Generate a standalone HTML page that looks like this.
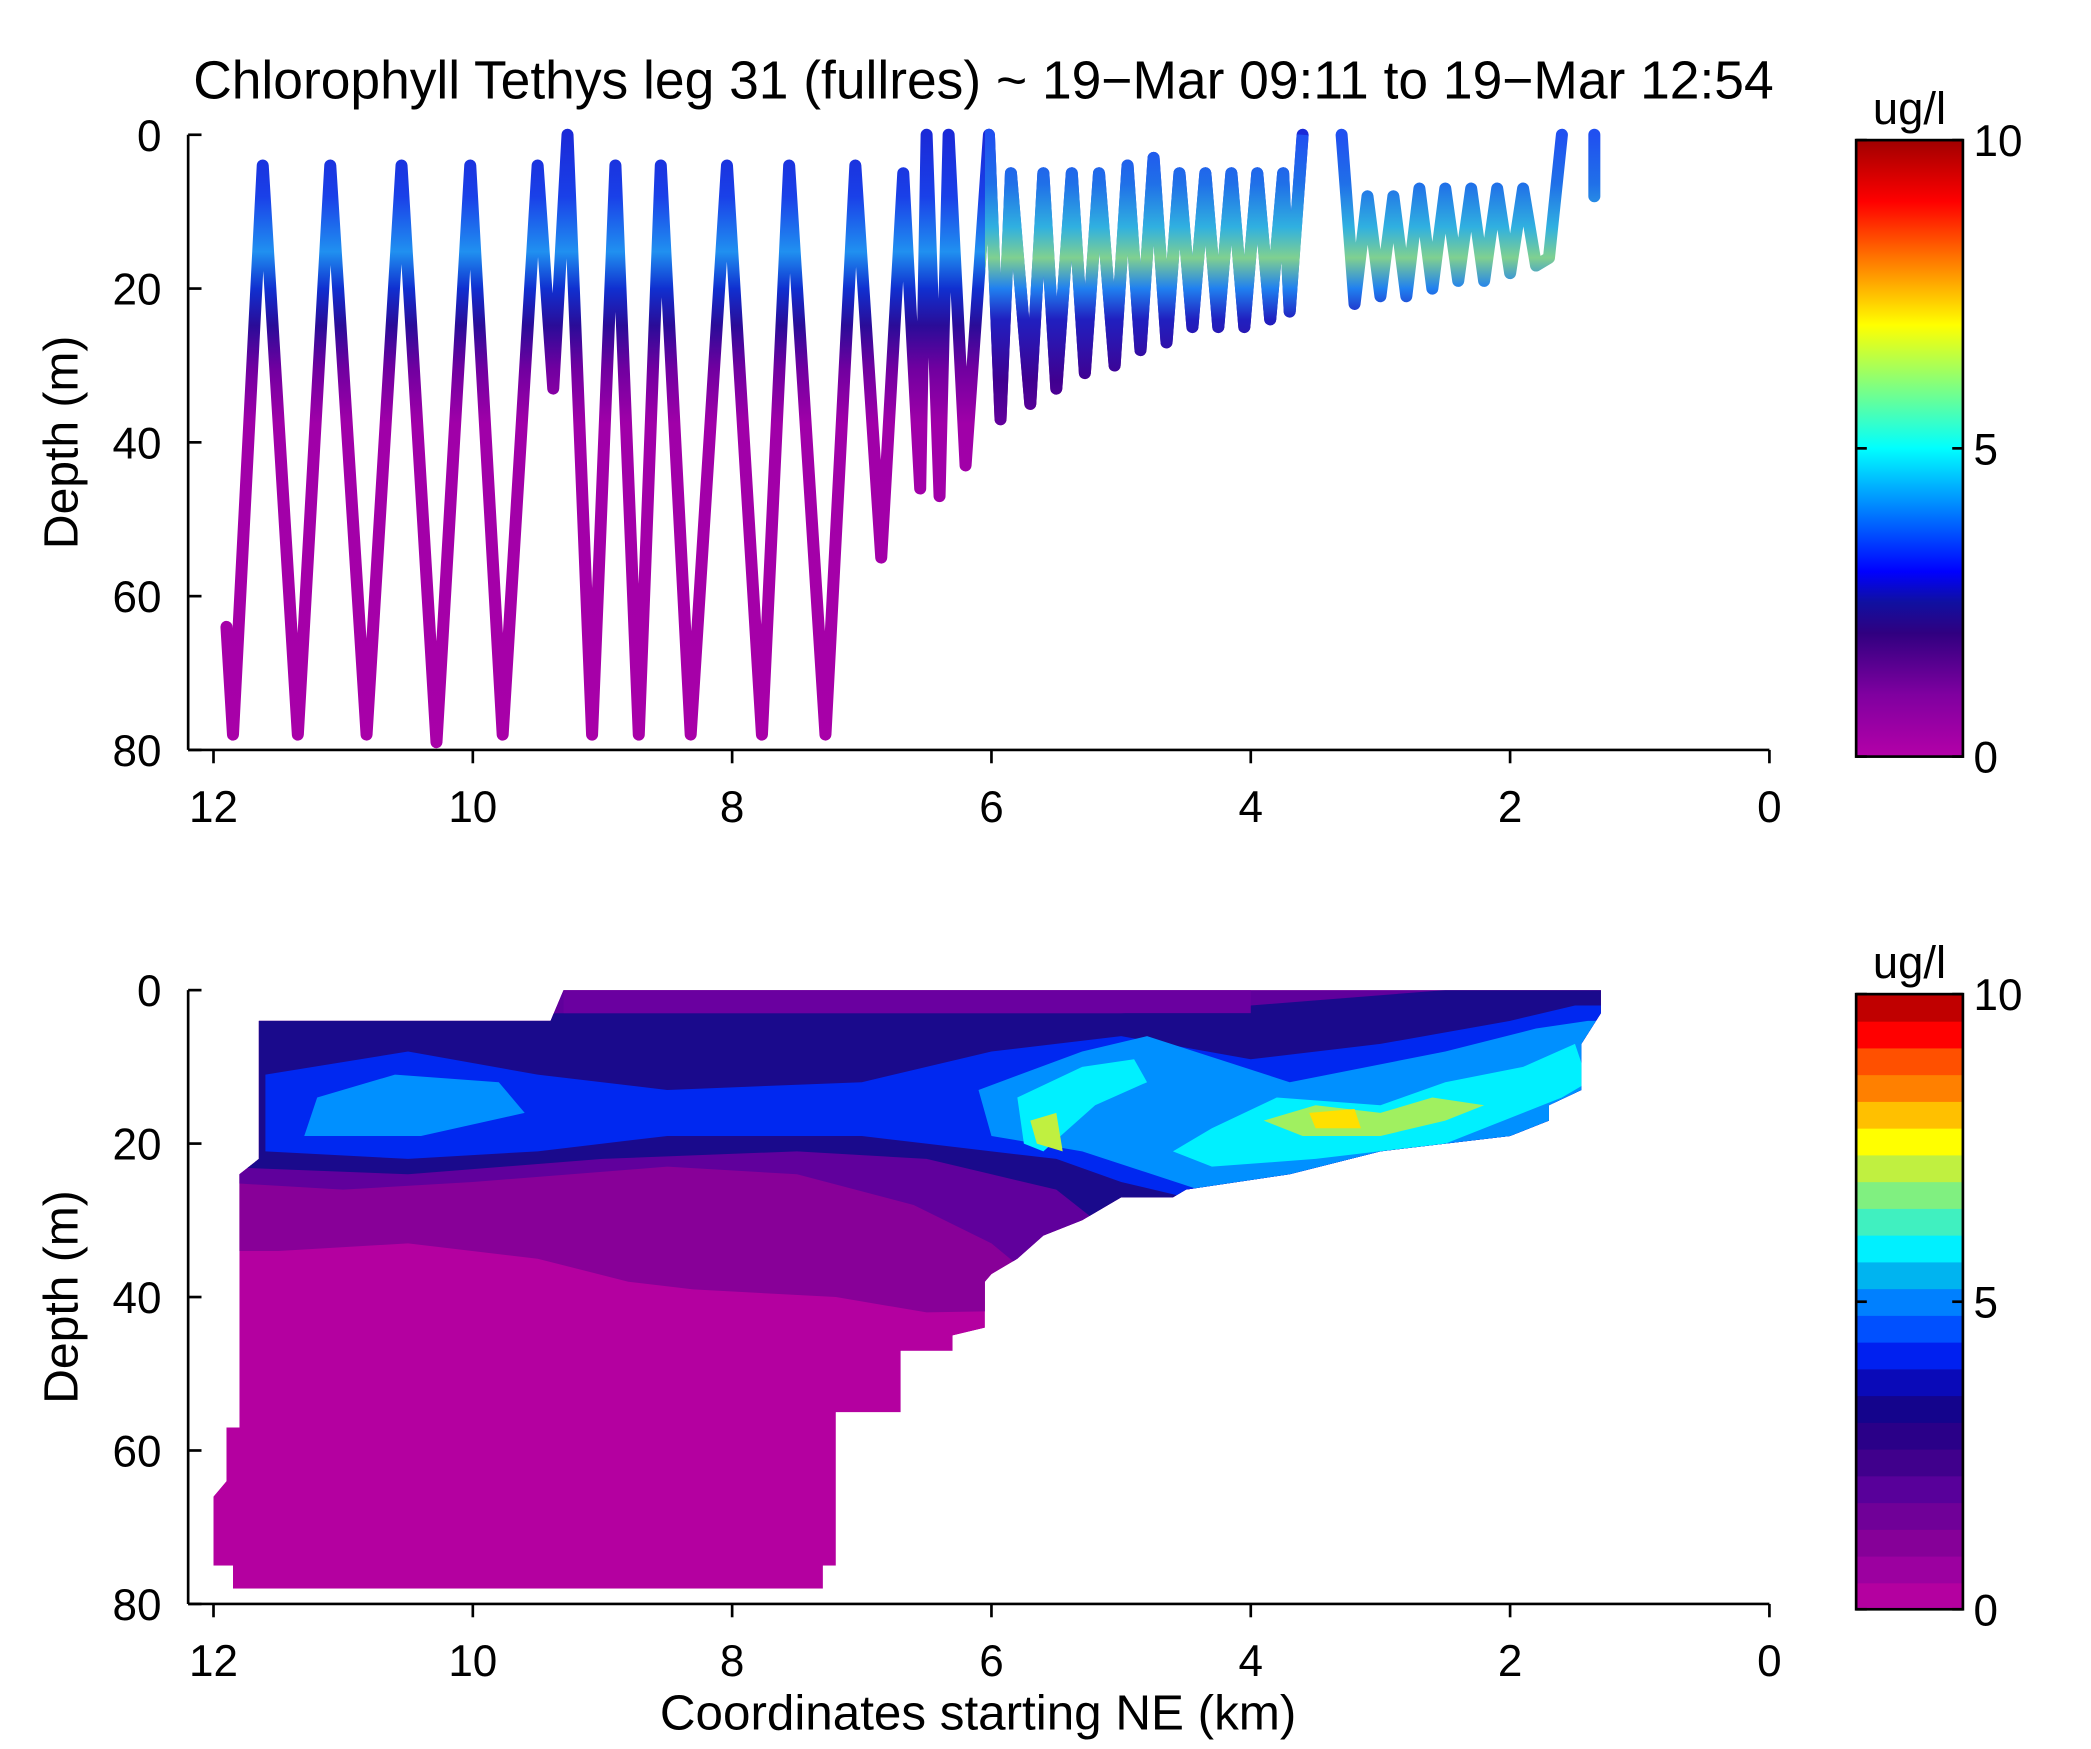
<!DOCTYPE html>
<html><head><meta charset="utf-8"><style>
html,body{margin:0;padding:0;background:#fff}
svg{display:block}
text{font-family:"Liberation Sans",sans-serif;fill:#000}
</style></head><body>
<svg id="fig" width="2091" height="1749" viewBox="0 0 1567 1310.7" xmlns="http://www.w3.org/2000/svg">
<defs>
<linearGradient id="cbTop" x1="0" y1="1" x2="0" y2="0">
<stop offset="0" stop-color="#b400a8"/><stop offset="0.1" stop-color="#8000a0"/><stop offset="0.2" stop-color="#300080"/>
<stop offset="0.25" stop-color="#1010a0"/><stop offset="0.3" stop-color="#0000ff"/><stop offset="0.4" stop-color="#0080ff"/>
<stop offset="0.5" stop-color="#00ffff"/><stop offset="0.6" stop-color="#80ff80"/><stop offset="0.7" stop-color="#ffff00"/>
<stop offset="0.8" stop-color="#ff8000"/><stop offset="0.9" stop-color="#ff0000"/><stop offset="1" stop-color="#a00000"/>
</linearGradient>
<linearGradient id="traceGrad" gradientUnits="userSpaceOnUse" x1="0" y1="101" x2="0" y2="562">
<stop offset="0" stop-color="#1a2ad8"/><stop offset="0.1" stop-color="#1a40e8"/><stop offset="0.19" stop-color="#2090f0"/>
<stop offset="0.25" stop-color="#1030d0"/><stop offset="0.31" stop-color="#2a0c98"/><stop offset="0.38" stop-color="#7000a0"/>
<stop offset="0.47" stop-color="#a000a8"/><stop offset="1" stop-color="#a800a8"/>
</linearGradient>
<linearGradient id="traceGrad2" gradientUnits="userSpaceOnUse" x1="0" y1="101" x2="0" y2="562">
<stop offset="0" stop-color="#2050f0"/><stop offset="0.08" stop-color="#2070e8"/><stop offset="0.15" stop-color="#30b0e0"/>
<stop offset="0.2" stop-color="#80d090"/><stop offset="0.25" stop-color="#2080f0"/><stop offset="0.3" stop-color="#2020c0"/>
<stop offset="0.4" stop-color="#400090"/><stop offset="0.5" stop-color="#7000a0"/><stop offset="1" stop-color="#8000a0"/>
</linearGradient>
</defs>
<g id="top"></g>
<g id="bottom"></g>
</svg>
<script>
// ---- data ----
const xTicks = [12,10,8,6,4,2,0];
const yTicks = [0,20,40,60,80];
const cbTicks = [0,5,10];
const traceKm = [11.9,11.85,11.62,11.35,11.1,10.82,10.55,10.28,10.02,9.77,9.5,9.38,9.27,9.08,8.9,8.72,8.55,8.32,8.04,7.77,7.56,7.28,7.05,6.85,6.68,6.55,6.5,6.4,6.33,6.2,6.02,5.93,5.85,5.7,5.6,5.5,5.38,5.28,5.17,5.05,4.95,4.85,4.75,4.65,4.55,4.45,4.35,4.25,4.15,4.05,3.95,3.85,3.75,3.7,3.6];
const traceDepth = [64,78,4,78,4,78,4,79,4,78,4,33,0,78,4,78,4,78,4,78,4,78,4,55,5,46,0,47,0,43,0,37,5,35,5,33,5,31,5,30,4,28,3,27,5,25,5,25,5,25,5,24,5,23,0];
const trace2Km = [3.3,3.2,3.1,3.0,2.9,2.8,2.7,2.6,2.5,2.4,2.3,2.2,2.1,2.0,1.9,1.8,1.7,1.6];
const trace2Depth = [0,22,8,21,8,21,7,20,7,19,7,19,7,18,7,17,16,0];
const trace3Km = [1.35,1.35];
const trace3Depth = [0,8];
const outlineKm = [11.65,9.4,9.3,1.3,1.3,1.45,1.45,1.7,1.7,2,3,3.7,4.5,4.6,5,5.3,5.6,5.8,6,6.05,6.05,6.3,6.3,6.7,6.7,7.2,7.2,7.3,7.3,11.85,11.85,12,12,11.9,11.9,11.8,11.8,11.65];
const outlineDepth = [4,4,0,0,3,7,13,15,17,19,21,24,26,27,27,30,32,35,37,38,44,45,47,47,55,55,75,75,78,78,75,75,66,64,57,57,24,22];
const purpleKm = [12,0,0,6.5,7.2,8.3,8.8,9.5,10.5,11.5,12];
const purpleDepth = [0,0,40,42,40,39,38,35,33,34,34];
const dpurpKm = [12,0,0,5.5,6,6.6,7.5,8.5,10,11,12];
const dpurpDepth = [0,0,40,40,33,28,24,23,25,26,25];
const navyKm = [12,9.3,7,5,4,2.5,0,0,4.5,5.2,5.5,6,6.5,7.5,9,10.5,12];
const navyDepth = [3,3,3,3,2,0,0,40,40,30,26,24,22,21,22,24,23];
const blueKm = [11.6,10.5,9.5,8.5,7,6,5,4,3,2,1.5,0,0,3,4.5,5,5.5,6,7,8.5,9.5,10.5,11.6];
const blueDepth = [11,8,11,13,12,8,6,9,7,4,2,2,40,30,27,25,22,21,19,19,21,22,21];
const lblue1Km = [11.2,10.6,9.8,9.6,10.4,11.3];
const lblue1Depth = [14,11,12,16,19,19];
const lblue2Km = [6.1,5.3,4.8,3.7,2.5,1.8,1.4,0,0,3,4.4,5.3,6];
const lblue2Depth = [13,8,6,12,8,5,4,4,40,25,26,21,19];
const cyan1Km = [5.8,5.3,4.9,4.8,5.2,5.6,5.75];
const cyan1Depth = [14,10,9,12,15,21,20];
const cyan2Km = [4.3,3.8,3,2.5,1.9,1.5,1.4,1.6,2.5,3.5,4.3,4.6];
const cyan2Depth = [18,14,15,12,10,7,12,14,20,22,23,21];
const green1Km = [3.9,3.5,3,2.6,2.2,2.5,3,3.6];
const green1Depth = [17,15,16,14,15,17,19,19];
const green2Km = [5.7,5.5,5.45,5.65];
const green2Depth = [17,16,21,20];
const yellowKm = [3.55,3.2,3.15,3.5];
const yellowDepth = [16,15.5,18,18];
const bandColors = ["#b400a0","#9c00a0","#860098","#700098","#58009a","#40008c","#2a0088","#14048c","#0a0ab8","#0020f0","#0050ff","#0080ff","#00b4f0","#00f0ff","#40f0c0","#80f080","#c0f040","#ffff00","#ffc000","#ff8000"];
const bandColors2 = ["#ff5000","#ff0000","#c00000"];

// ---- axes ----
const NS="http://www.w3.org/2000/svg";
const X0=141, X1=1326, XKM0=1326, XKM12=160;
const sx = km => XKM0 + (XKM12-XKM0)*km/12;
function mk(tag, attrs, parent){const e=document.createElementNS(NS,tag);for(const k in attrs)e.setAttribute(k,attrs[k]);parent.appendChild(e);return e;}
function pts(kms, ds, sy){return kms.map((k,i)=>sx(k).toFixed(1)+","+sy(ds[i]).toFixed(1)).join(" ");}

function axes(g, top, sy, cbTop, cbBot, discrete){
  const l=mk('line',{x1:X0,y1:top,x2:X0,y2:sy(80),stroke:'#000','stroke-width':2},g);
   
  const b=mk('line',{x1:X0,y1:sy(80),x2:X1,y2:sy(80),stroke:'#000','stroke-width':2},g);
   
  yTicks.forEach(v=>{
    mk('line',{x1:X0,y1:sy(v),x2:X0+10,y2:sy(v),stroke:'#000','stroke-width':2},g);
    const t=mk('text',{x:X0-20,y:sy(v)+12,'text-anchor':'end','font-size':33},g);t.textContent=v;
     
  });
  xTicks.forEach(v=>{
    mk('line',{x1:sx(v),y1:sy(80),x2:sx(v),y2:sy(80)+10,stroke:'#000','stroke-width':2},g);
    const t=mk('text',{x:sx(v),y:sy(80)+54,'text-anchor':'middle','font-size':33},g);t.textContent=v;
     
  });
  const yl=mk('text',{x:58,y:(top+sy(80))/2,'text-anchor':'middle','font-size':36,transform:`rotate(-90 58 ${(top+sy(80))/2})`},g);
  yl.textContent='Depth (m)';
   
  const cx=1391,cw=80,h=cbBot-cbTop;
  const cb=mk('g',{},g);
   
  if(!discrete){ mk('rect',{x:cx,y:cbTop,width:cw,height:h,fill:'url(#cbTop)'},cb); }
  else{
    const all=bandColors.concat(bandColors2); const n=all.length;
    all.forEach((c,i)=>mk('rect',{x:cx,y:cbBot-(i+1)*h/n,width:cw,height:h/n+0.6,fill:c},cb));
  }
  mk('rect',{x:cx,y:cbTop,width:cw,height:h,fill:'none',stroke:'#000','stroke-width':2},cb);
  cbTicks.forEach(v=>{
    const y=cbBot-h*v/10;
    mk('line',{x1:cx,y1:y,x2:cx+8,y2:y,stroke:'#000','stroke-width':2},cb);
    mk('line',{x1:cx+cw-8,y1:y,x2:cx+cw,y2:y,stroke:'#000','stroke-width':2},cb);
    const t=mk('text',{x:cx+cw+8,y:y+12,'font-size':33},cb);t.textContent=v;
     
  });
  const u=mk('text',{x:cx+cw/2,y:cbTop-12,'text-anchor':'middle','font-size':34},cb);u.textContent='ug/l';
   
}

// ---- top panel ----
const gt=document.getElementById('top');
const syT = d => 101 + (562-101)*d/80;
const title=mk('text',{x:737,y:74,'text-anchor':'middle','font-size':40},gt);
title.textContent='Chlorophyll Tethys leg 31 (fullres) ~ 19\u2212Mar 09:11 to 19\u2212Mar 12:54';
 
[[traceKm,traceDepth],[trace2Km,trace2Depth],[trace3Km,trace3Depth]].forEach(([k,d],i)=>{
  const p=mk('polyline',{points:pts(k,d,syT),fill:'none',stroke:(i===0?'url(#traceGrad)':'url(#traceGrad2)'),'stroke-width':9,'stroke-linejoin':'round','stroke-linecap':'round'},gt);
   
});
const clipT=mk('clipPath',{id:'clipDense'},document.querySelector('defs'));
mk('rect',{x:sx(6.05),y:0,width:sx(0)-sx(6.05),height:600},clipT);
const ov=mk('polyline',{points:pts(traceKm,traceDepth,syT),fill:'none',stroke:'url(#traceGrad2)','stroke-width':9,'stroke-linejoin':'round','clip-path':'url(#clipDense)'},gt);
 
axes(gt,101,syT,105,567,false);

// ---- bottom panel ----
const gb=document.getElementById('bottom');
const syB = d => 742 + (1202-742)*d/80;
const clipB=mk('clipPath',{id:'clipOutline'},document.querySelector('defs'));
mk('polygon',{points:pts(outlineKm,outlineDepth,syB)},clipB);
const cg=mk('g',{'clip-path':'url(#clipOutline)'},gb);
 
mk('polygon',{points:pts(outlineKm,outlineDepth,syB),fill:'#b400a0'},cg);
const layers=[[purpleKm,purpleDepth,'#880098'],[dpurpKm,dpurpDepth,'#60009c'],[navyKm,navyDepth,'#1a0a8c'],
 [blueKm,blueDepth,'#0028f0'],[lblue1Km,lblue1Depth,'#0090ff'],[lblue2Km,lblue2Depth,'#0090ff'],
 [cyan1Km,cyan1Depth,'#00f0ff'],[cyan2Km,cyan2Depth,'#00f0ff'],[green1Km,green1Depth,'#a0f060'],
 [green2Km,green2Depth,'#c0f040'],[yellowKm,yellowDepth,'#ffe000']];
layers.forEach(([k,d,c])=>{
  const p=mk('polygon',{points:pts(k,d,syB),fill:c},cg);
   
});
const strip=mk('rect',{x:sx(9.3),y:syB(0),width:sx(4)-sx(9.3),height:syB(3)-syB(0),fill:'#6a00a0'},cg);
 
axes(gb,742,syB,745,1206,true);
const xl=mk('text',{x:733,y:1296,'text-anchor':'middle','font-size':37},gb);
xl.textContent='Coordinates starting NE (km)';
 
</script>
</body></html>
